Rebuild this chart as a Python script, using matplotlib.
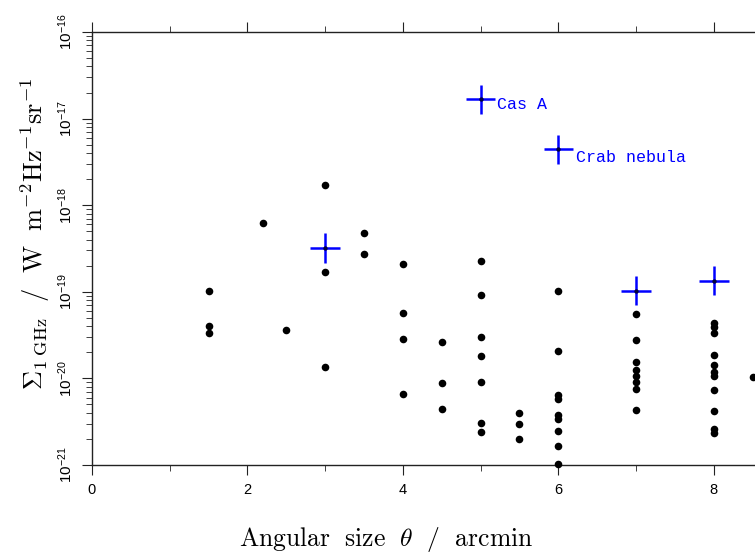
import numpy as np
import matplotlib
matplotlib.use("Agg")
import matplotlib.pyplot as plt
from matplotlib.ticker import FixedLocator, MultipleLocator

plt.rcParams['font.family'] = ['Liberation Sans', 'DejaVu Sans']
plt.rcParams['mathtext.fontset'] = 'cm'

# black points: angular size (arcmin), surface brightness at 1 GHz
size_pts = [1.5, 1.5, 1.5, 2.2, 2.5, 3, 3, 3, 3.5, 3.5,
            4, 4, 4, 4, 4.5, 4.5, 4.5,
            5, 5, 5, 5, 5, 5, 5, 5.5, 5.5, 5.5,
            6, 6, 6, 6, 6, 6, 6, 6, 6,
            7, 7, 7, 7, 7, 7, 7, 7,
            8, 8, 8, 8, 8, 8, 8, 8, 8, 8, 8, 8.5]
sigma_pts = [1.01e-19, 4.06e-20, 3.37e-20, 6.28e-19, 3.62e-20, 1.70e-18, 1.69e-19, 1.34e-20, 4.73e-19, 2.73e-19,
             2.08e-19, 5.69e-20, 2.83e-20, 6.6e-21, 2.61e-20, 8.9e-21, 4.47e-21,
             2.25e-19, 9.1e-20, 3.0e-20, 1.81e-20, 9.08e-21, 3.03e-21, 2.40e-21, 3.98e-21, 3.0e-21, 1.98e-21,
             1.01e-19, 2.09e-20, 6.38e-21, 5.83e-21, 3.75e-21, 3.37e-21, 2.49e-21, 1.67e-21, 1.04e-21,
             5.55e-20, 2.77e-20, 1.55e-20, 1.25e-20, 1.08e-20, 9.16e-21, 7.6e-21, 4.32e-21,
             4.37e-20, 3.96e-20, 3.31e-20, 1.88e-20, 1.42e-20, 1.19e-20, 1.08e-20, 7.28e-21, 4.24e-21, 2.63e-21, 2.36e-21, 1.05e-20]

# blue points with error crosses
size_err = [3, 5, 6, 7, 8]
sigma_err = [3.2e-19, 1.67e-17, 4.42e-18, 1.03e-19, 1.35e-19]
xerr_arcmin = 0.19
yerr_dex = 0.17
names = {1: 'Cas A', 2: 'Crab nebula'}

y_exps = [-21, -20, -19, -18, -17, -16]
x_ticks = [0, 2, 4, 6, 8]

fig = plt.figure(figsize=(7.55, 5.57), dpi=100)
ax = fig.add_axes([92 / 755, 1 - 465 / 557, 1 - 92 / 755, (465 - 32) / 557])

ax.scatter(size_pts, sigma_pts, s=30, color='black', zorder=3, clip_on=False, linewidths=0)

s = np.array(sigma_err)
ylo = s - s / 10 ** yerr_dex
yhi = s * 10 ** yerr_dex - s
ax.errorbar(size_err, sigma_err, xerr=xerr_arcmin, yerr=[ylo, yhi], fmt='none',
            ecolor='#0000ff', elinewidth=1.8, capsize=0, zorder=4)
ax.scatter(size_err, sigma_err, s=10, color='#000040', zorder=5, linewidths=0)

offs = {1: (11.5, -3.6), 2: (12.5, -5.8)}
for i, label in names.items():
    ax.annotate(label, (size_err[i], sigma_err[i]), xytext=offs[i], textcoords='offset points',
                ha='left', va='center', color='#0000ff', fontsize=12, family='Liberation Mono')

ax.set_yscale('log')
ax.set_xlim(0, 8.53)
ax.set_ylim(1e-21, 1e-16)

ax.set_xticks(x_ticks, [str(v) for v in x_ticks])
ax.xaxis.set_minor_locator(MultipleLocator(1))
ax.set_yticks([10.0 ** e for e in y_exps],
              [r'$\mathregular{10^{%d}}$' % e for e in y_exps],
              rotation=90, rotation_mode='default', ha='right', va='center')
minor_y = [m * 10.0 ** e for e in y_exps[:-1] for m in range(2, 10)]
ax.yaxis.set_minor_locator(FixedLocator(minor_y))

ax.spines['right'].set_visible(False)
for sp in ax.spines.values():
    sp.set_linewidth(1.0)
    sp.set_color('#222222')

ax.tick_params(axis='x', which='both', direction='out', top=True, bottom=True,
               labelsize=10.5, color='#222222', pad=6)
ax.tick_params(axis='x', which='major', length=7)
ax.tick_params(axis='x', which='minor', length=4)
ax.tick_params(axis='y', which='both', direction='out', left=True, right=False,
               labelsize=11, color='#222222', pad=5)
ax.tick_params(axis='y', which='major', length=7)
ax.tick_params(axis='y', which='minor', length=4)

fig.text(386 / 755, 1 - 540 / 557, r'$\mathrm{Angular\ \ size}\ \ \theta\ \ /\ \ \mathrm{arcmin}$',
         ha='center', va='center', fontsize=18.5)
fig.text(35 / 755, 1 - 234 / 557,
         r'$\Sigma_{1\ \mathrm{GHz}}\ \ /\ \ \mathrm{W\ \ m^{-2}Hz^{-1}sr^{-1}}$',
         ha='center', va='center', rotation=90, fontsize=19)

fig.savefig('out.png', dpi=100)
